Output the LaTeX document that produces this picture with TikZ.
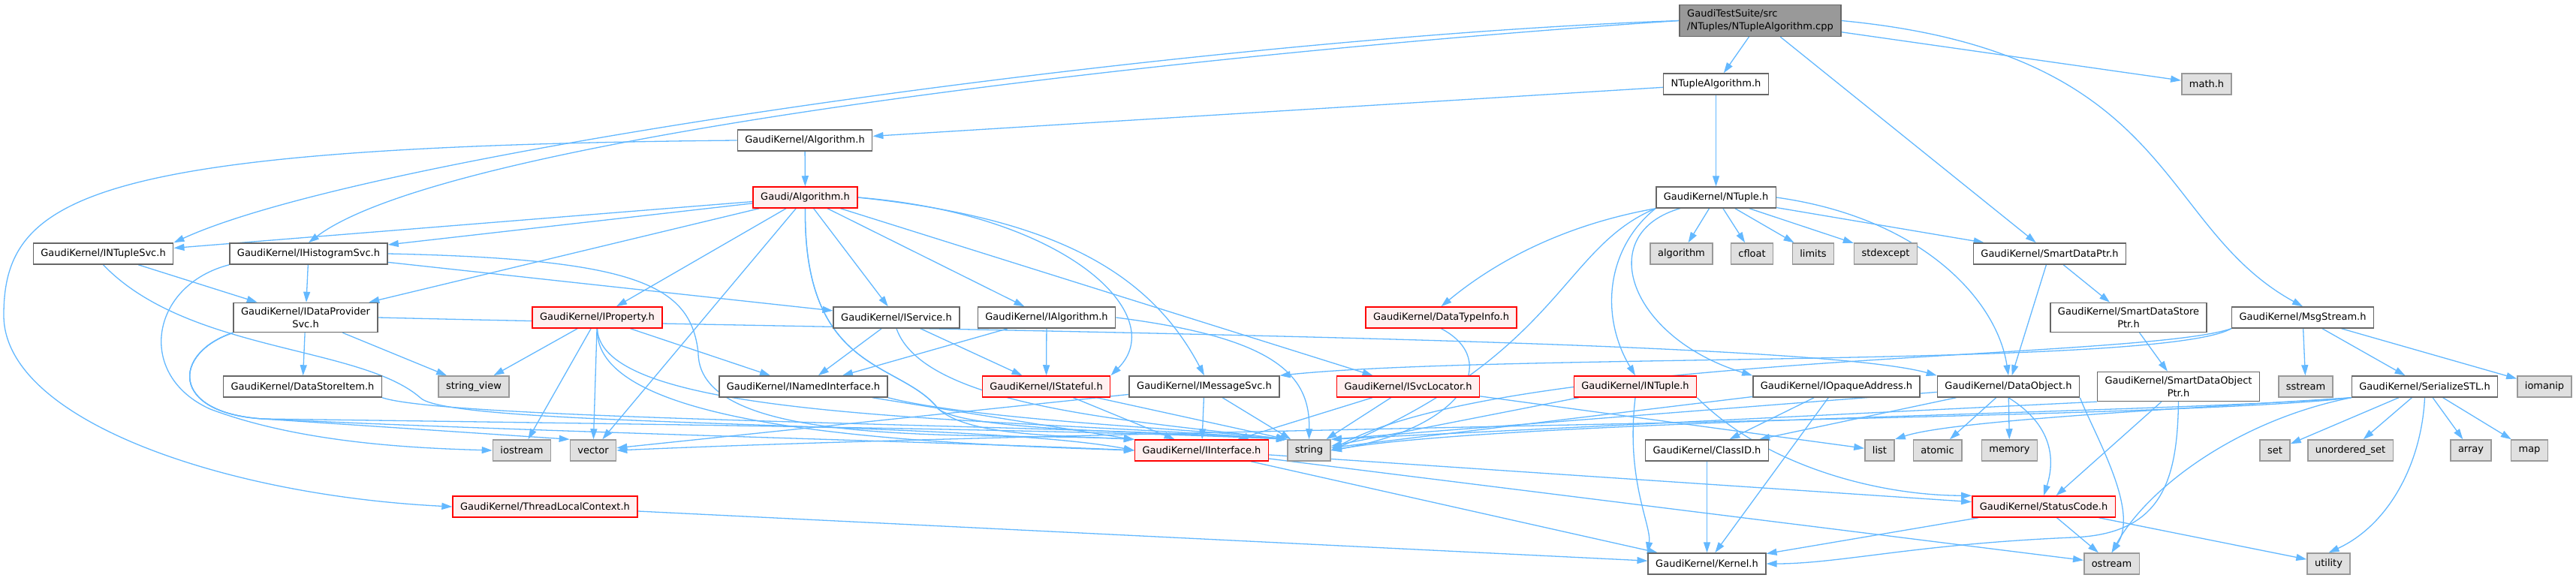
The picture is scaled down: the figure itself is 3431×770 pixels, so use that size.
\documentclass[tikz,border=0pt]{standalone}
\usepackage{fontspec}
\setmainfont{DejaVu Sans}
\usetikzlibrary{arrows.meta,backgrounds}
\definecolor{edgeblue}{HTML}{63B8FF}
\definecolor{boxgray}{HTML}{666666}
\definecolor{sysgray}{HTML}{999999}
\definecolor{sysfill}{HTML}{E0E0E0}
\definecolor{truncfill}{HTML}{FFF0F0}
\definecolor{topfill}{HTML}{999999}

\begin{document}
\begin{tikzpicture}[x=1pt,y=-1pt,
  every node/.style={font=\fontsize{13}{17}\selectfont,draw,line width=1.5pt,
    minimum height=28pt,inner xsep=10pt,inner ysep=6pt},
  hdr/.style={draw=boxgray,fill=white,align=center},
  trunc/.style={draw=red,fill=truncfill},
  sys/.style={draw=sysgray,fill=sysfill},
  topfile/.style={draw=boxgray,fill=topfill,align=left},
  dep/.style={draw=edgeblue,line width=1.3pt,-{Triangle[length=14pt,width=9pt]}}]
\useasboundingbox (0,0) rectangle (3431,770);

\node[topfile] (tp) at (2344.5,27.5) {GaudiTestSuite/src\\/NTuples/NTupleAlgorithm.cpp};
\node[hdr] (ntalgh) at (2285.5,112) {NTupleAlgorithm.h};
\node[sys] (math) at (2939,112) {math.h};
\node[hdr] (gkalg) at (1072,187) {GaudiKernel/Algorithm.h};
\node[trunc] (galg) at (1072.5,263) {Gaudi/Algorithm.h};
\node[hdr] (ntuple) at (2285.5,263) {GaudiKernel/NTuple.h};

\node[hdr] (intsvc) at (137.5,338) {GaudiKernel/INTupleSvc.h};
\node[hdr] (ihist) at (411,338) {GaudiKernel/IHistogramSvc.h};
\node[sys] (algorithm) at (2239.5,338) {algorithm};
\node[sys] (cfloat) at (2333.5,338) {cfloat};
\node[sys] (limits) at (2415,338) {limits};
\node[sys] (stdexcept) at (2511.5,338) {stdexcept};
\node[hdr] (sdptr) at (2730,338) {GaudiKernel/SmartDataPtr.h};

\node[hdr] (idps) at (407,423) {GaudiKernel/IDataProvider\\Svc.h};
\node[trunc] (iprop) at (795.5,423) {GaudiKernel/IProperty.h};
\node[hdr] (isvc) at (1194,423) {GaudiKernel/IService.h};
\node[hdr] (ialg) at (1394,423) {GaudiKernel/IAlgorithm.h};
\node[trunc] (dtinfo) at (1919.5,423) {GaudiKernel/DataTypeInfo.h};
\node[hdr] (sdsp) at (2835,423) {GaudiKernel/SmartDataStore\\Ptr.h};
\node[hdr] (msgs) at (3067,423) {GaudiKernel/MsgStream.h};

\node[hdr] (dsi) at (403,515) {GaudiKernel/DataStoreItem.h};
\node[sys] (strv) at (631,515) {string\_view};
\node[hdr] (inamed) at (1070,515) {GaudiKernel/INamedInterface.h};
\node[trunc] (istate) at (1393.5,515) {GaudiKernel/IStateful.h};
\node[hdr] (imsg) at (1604,515) {GaudiKernel/IMessageSvc.h};
\node[trunc] (isl) at (1875.5,515) {GaudiKernel/ISvcLocator.h};
\node[trunc] (intuple) at (2178,515) {GaudiKernel/INTuple.h};
\node[hdr] (iopaque) at (2446,515) {GaudiKernel/IOpaqueAddress.h};
\node[hdr] (dobj) at (2675,515) {GaudiKernel/DataObject.h};
\node[hdr] (sdop) at (2901.5,515) {GaudiKernel/SmartDataObject\\Ptr.h};
\node[sys] (sstream) at (3071,515) {sstream};
\node[hdr] (sstl) at (3229.5,515) {GaudiKernel/SerializeSTL.h};
\node[sys] (iomanip) at (3389,515) {iomanip};

\node[sys] (iostream) at (695,600) {iostream};
\node[sys] (vector) at (790,600) {vector};
\node[trunc] (iint) at (1600.5,600) {GaudiKernel/IInterface.h};
\node[sys] (string) at (1743.5,600) {string};
\node[hdr] (classid) at (2273.5,600) {GaudiKernel/ClassID.h};
\node[sys] (list) at (2503.5,600) {list};
\node[sys] (atomic) at (2580.5,600) {atomic};
\node[sys] (memory) at (2676.5,600) {memory};
\node[sys] (set) at (3030,600) {set};
\node[sys] (uset) at (3130.5,600) {unordered\_set};
\node[sys] (array) at (3291,600) {array};
\node[sys] (map) at (3369,600) {map};

\node[trunc] (tlc) at (726,675) {GaudiKernel/ThreadLocalContext.h};
\node[trunc] (status) at (2722,675) {GaudiKernel/StatusCode.h};

\node[hdr] (kernel) at (2273.5,751) {GaudiKernel/Kernel.h};
\node[sys] (ostream) at (2812.5,751) {ostream};
\node[sys] (utility) at (3101.5,751) {utility};

\begin{scope}[on background layer]
\foreach \s/\t in {tp/ntalgh,tp/math,tp/sdptr,
    ntalgh/gkalg,ntalgh/ntuple,gkalg/galg,
    galg/intsvc,galg/ihist,galg/idps,galg/iprop,galg/isvc,galg/ialg,
    galg/isl,galg/vector,
    intsvc/idps,ihist/idps,ihist/isvc,
    idps/dsi,idps/strv,
    iprop/strv,iprop/iostream,iprop/vector,iprop/inamed,
    isvc/inamed,isvc/istate,ialg/inamed,ialg/istate,
    inamed/iint,istate/iint,
    imsg/vector,imsg/iint,imsg/string,isl/iint,isl/string,isl/list,
    ntuple/algorithm,ntuple/cfloat,ntuple/limits,ntuple/stdexcept,ntuple/sdptr,
    intuple/string,iopaque/string,iopaque/classid,iopaque/kernel,
    dobj/classid,dobj/atomic,dobj/memory,
    sdptr/dobj,sdptr/sdsp,sdsp/sdop,sdop/status,
    msgs/sstream,msgs/sstl,msgs/iomanip,
    sstl/set,sstl/uset,sstl/array,sstl/map,
    iint/status,iint/ostream,iint/kernel,tlc/kernel,classid/kernel,
    status/kernel,status/ostream,status/utility}
  \draw[dep] (\s) -- (\t);
\draw[dep] (tp.west) .. controls (1600,50) and (500,200) .. (intsvc.north east);
\draw[dep] (tp.west) .. controls (1600,70) and (600,180) .. (ihist.north);
\draw[dep] (tp.east) .. controls (2900,70) and (2870,300) .. (msgs.north);
\draw[dep] (gkalg.west) .. controls (120,195) and (5,260) .. (5,420)
  .. controls (5,560) and (300,660) .. (tlc.west);
\draw[dep] (galg.east) .. controls (1400,290) and (1530,360) .. (imsg.north);
\draw[dep] (galg.east) .. controls (1420,285) and (1560,420) .. (istate.north east);
\draw[dep] (galg.south) .. controls (1070,500) and (1200,480) .. (1250,545)
  .. controls (1290,575) and (1550,575) .. (string.north west);
\draw[dep] (galg.south) .. controls (1070,500) and (1200,480) .. (1250,545)
  .. controls (1290,580) and (1400,580) .. (iint.north west);
\draw[dep] (intsvc.south) .. controls (250,470) and (480,460) .. (560,530)
  .. controls (600,570) and (1300,560) .. (iint.west);
\draw[dep] (ihist.south west) .. controls (200,380) and (180,500) .. (280,545)
  .. controls (400,590) and (550,597) .. (iostream.west);
\draw[dep] (ihist.east) .. controls (850,345) and (920,380) .. (930,470)
  .. controls (930,600) and (1300,575) .. (iint.north west);
\draw[dep] (idps.east) .. controls (1200,440) and (2400,450) .. (dobj.north west);
\draw[dep] (idps.south west) .. controls (230,470) and (225,550) .. (350,558)
  -- (vector.north west);
\draw[dep] (idps.south west) .. controls (230,470) and (225,550) .. (350,558)
  .. controls (700,575) and (1300,590) .. (iint.west);
\draw[dep] (idps.south west) .. controls (230,470) and (225,550) .. (350,558)
  .. controls (1100,568) and (1500,575) .. (string.north west);
\draw[dep] (dsi.south east) .. controls (600,560) and (1400,565) .. (string.north west);
\draw[dep] (iprop.south) .. controls (790,570) and (1200,590) .. (iint.west);
\draw[dep] (iprop.south) .. controls (800,560) and (1300,555) .. (string.north west);
\draw[dep] (isvc.south) .. controls (1230,540) and (1500,560) .. (string.north west);
\draw[dep] (ialg.east) .. controls (1700,450) and (1745,500) .. (string.north);
\draw[dep] (inamed.south east) .. controls (1300,560) and (1600,572) .. (string.north west);
\draw[dep] (istate) -- (string.north west);
\draw[dep] (dtinfo.south) .. controls (2000,480) and (1950,570) .. (string.east);
\draw[dep] (ntuple.south west) .. controls (2080,300) and (1990,350) .. (dtinfo.north);
\draw[dep] (ntuple.south west) .. controls (2080,330) and (2080,470) .. (string.east);
\draw[dep] (ntuple.south west) .. controls (2140,330) and (2130,420) .. (intuple.north);
\draw[dep] (2240,277) .. controls (2120,310) and (2170,450) .. (iopaque.north west);
\draw[dep] (ntuple.east) .. controls (2560,290) and (2660,400) .. (dobj.north);
\draw[dep] (intuple.south) .. controls (2165,640) and (2200,700) .. (kernel.north west);
\draw[dep] (intuple.south east) .. controls (2350,620) and (2500,660) .. (status.north west);
\draw[dep] (dobj) -- (string.north east);
\draw[dep] (dobj.south) .. controls (2740,570) and (2735,620) .. (status.north);
\draw[dep] (dobj.south east) .. controls (2790,580) and (2850,680) .. (ostream.north);
\draw[dep] (sdop.south west) -- (string.north east);
\draw[dep] (sdop.south) .. controls (2900,640) and (2880,712) .. (2760,716)
  .. controls (2550,725) and (2450,751) .. (kernel.east);
\draw[dep] (msgs.south west) .. controls (2880,490) and (2000,470) .. (imsg.north east);
\draw[dep] (msgs.south west) .. controls (2850,480) and (2000,470) .. (string.east);
\draw[dep] (sstl.south west) .. controls (2900,560) and (1500,570) .. (vector.east);
\draw[dep] (sstl.south west) .. controls (2900,550) and (2000,560) .. (string.east);
\draw[dep] (sstl.south west) .. controls (2900,545) and (2600,560) .. (list.north east);
\draw[dep] (sstl.south west) .. controls (2980,560) and (2860,650) .. (ostream.north);
\draw[dep] (sstl.south) .. controls (3225,620) and (3180,700) .. (utility.north);
\end{scope}
\end{tikzpicture}
\end{document}
